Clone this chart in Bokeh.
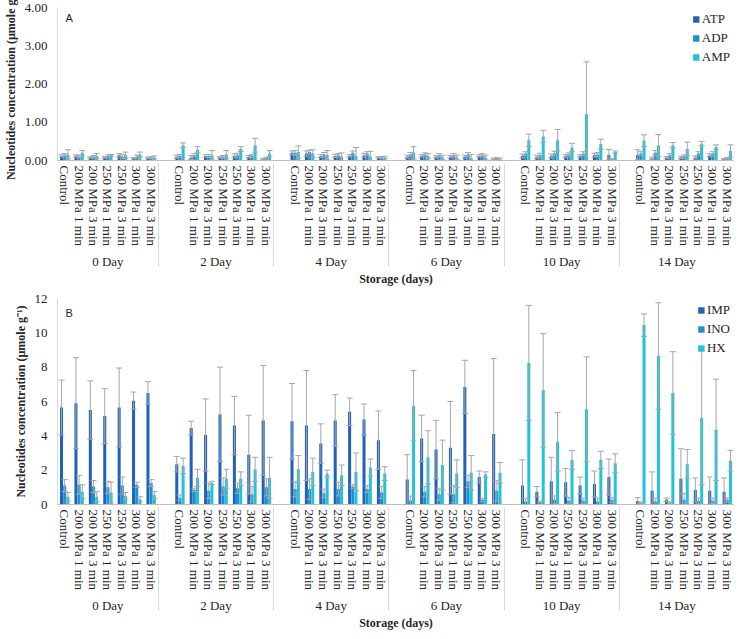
from bokeh.plotting import figure
from bokeh.models import (FactorRange, Whisker, TeeHead, ColumnDataSource, Legend,
                          LegendItem, Label, NumeralTickFormatter, FixedTicker)
from bokeh.transform import dodge
from bokeh.layouts import column
from bokeh.embed import file_html
from bokeh.resources import INLINE

# ---------------- data ----------------
days = ["0 Day", "2 Day", "4 Day", "6 Day", "10 Day", "14 Day"]
treatments = ["Control", "200 MPa 1 min", "200 MPa 3 min", "250 MPa 1 min",
              "250 MPa 3 min", "300 MPa 1 min", "300 MPa 3 min"]

# Panel A (µmole/g), day-major order (6 days x 7 treatments)
atp = [0.12, 0.12, 0.08, 0.08, 0.14, 0.06, 0.07,
       0.10, 0.08, 0.12, 0.08, 0.12, 0.10, 0.04,
       0.20, 0.18, 0.12, 0.12, 0.12, 0.14, 0.08,
       0.10, 0.12, 0.10, 0.10, 0.10, 0.12, 0.04,
       0.12, 0.10, 0.12, 0.12, 0.12, 0.14, 0.15,
       0.15, 0.06, 0.08, 0.08, 0.08, 0.14, 0.04]
atp_err = [0.03, 0.03, 0.02, 0.02, 0.04, 0.02, 0.02,
           0.04, 0.05, 0.03, 0.02, 0.05, 0.03, 0.02,
           0.05, 0.07, 0.04, 0.04, 0.03, 0.05, 0.02,
           0.04, 0.03, 0.03, 0.03, 0.04, 0.03, 0.02,
           0.05, 0.04, 0.05, 0.04, 0.03, 0.05, 0.14,
           0.13, 0.03, 0.03, 0.03, 0.04, 0.04, 0.01]
adp = [0.14, 0.10, 0.10, 0.12, 0.10, 0.10, 0.08,
       0.12, 0.14, 0.12, 0.10, 0.14, 0.12, 0.06,
       0.20, 0.22, 0.16, 0.14, 0.20, 0.18, 0.08,
       0.16, 0.16, 0.14, 0.14, 0.16, 0.14, 0.06,
       0.18, 0.14, 0.18, 0.16, 0.18, 0.16, 0.04,
       0.18, 0.20, 0.14, 0.12, 0.18, 0.18, 0.06]
adp_err = [0.04, 0.03, 0.03, 0.03, 0.05, 0.04, 0.02,
           0.04, 0.04, 0.04, 0.03, 0.05, 0.04, 0.02,
           0.06, 0.05, 0.05, 0.04, 0.05, 0.05, 0.02,
           0.05, 0.04, 0.04, 0.04, 0.05, 0.04, 0.02,
           0.05, 0.05, 0.06, 0.04, 0.05, 0.05, 0.01,
           0.05, 0.06, 0.04, 0.03, 0.05, 0.05, 0.02]
amp = [0.16, 0.20, 0.12, 0.14, 0.14, 0.16, 0.08,
       0.40, 0.28, 0.14, 0.16, 0.30, 0.40, 0.18,
       0.22, 0.18, 0.14, 0.10, 0.12, 0.10, 0.08,
       0.20, 0.12, 0.08, 0.08, 0.06, 0.08, 0.03,
       0.53, 0.63, 0.53, 0.34, 1.21, 0.43, 0.22,
       0.52, 0.39, 0.40, 0.30, 0.44, 0.35, 0.25]
amp_err = [0.12, 0.06, 0.06, 0.02, 0.08, 0.06, 0.04,
           0.06, 0.08, 0.12, 0.10, 0.06, 0.18, 0.08,
           0.16, 0.10, 0.12, 0.10, 0.22, 0.14, 0.03,
           0.16, 0.06, 0.06, 0.06, 0.10, 0.06, 0.03,
           0.16, 0.16, 0.28, 0.11, 1.37, 0.13, 0.03,
           0.15, 0.29, 0.07, 0.18, 0.06, 0.06, 0.16]

# Panel B (µmole/g)
imp = [5.65, 5.90, 5.50, 5.15, 5.65, 6.05, 6.50,
       2.35, 4.45, 4.05, 5.25, 4.60, 2.90, 4.90,
       4.85, 4.60, 3.55, 4.90, 5.40, 4.95, 3.75,
       1.45, 3.85, 3.20, 3.30, 6.85, 1.60, 4.10,
       1.10, 0.75, 1.35, 1.30, 1.10, 1.20, 1.60,
       0.20, 0.80, 0.27, 1.50, 0.85, 0.80, 0.75]
imp_err = [1.60, 2.65, 1.70, 1.60, 2.30, 0.50, 0.65,
           0.45, 0.40, 2.10, 2.75, 1.70, 2.30, 3.20,
           2.20, 3.20, 1.15, 1.50, 0.80, 0.90, 1.70,
           1.45, 1.35, 1.70, 2.70, 1.55, 0.35, 4.40,
           1.50, 0.30, 1.40, 0.80, 0.50, 0.75, 1.05,
           0.20, 1.10, 0.10, 1.75, 0.70, 0.80, 0.80]
ino = [1.10, 1.15, 1.05, 1.00, 1.10, 1.15, 1.25,
       0.40, 0.85, 0.80, 1.05, 0.95, 0.60, 1.00,
       0.90, 0.90, 0.65, 0.90, 1.05, 0.90, 0.70,
       0.24, 0.75, 0.60, 0.60, 1.35, 0.27, 0.80,
       0.18, 0.15, 0.27, 0.22, 0.22, 0.18, 0.27,
       0.10, 0.18, 0.10, 0.27, 0.22, 0.22, 0.27]
ino_err = [0.35, 0.55, 0.35, 0.35, 0.50, 0.15, 0.20,
           0.15, 0.10, 0.45, 0.50, 0.30, 0.45, 0.50,
           0.45, 0.60, 0.25, 0.40, 0.10, 0.20, 0.35,
           0.25, 0.30, 0.35, 0.50, 0.35, 0.10, 0.60,
           0.18, 0.05, 0.23, 0.18, 0.14, 0.18, 0.13,
           0.05, 0.18, 0.05, 0.37, 0.15, 0.15, 0.12]
hx = [0.45, 0.75, 0.45, 0.70, 0.50, 0.30, 0.55,
      2.25, 1.55, 1.25, 1.50, 1.50, 2.05, 1.55,
      2.05, 1.90, 1.80, 1.70, 1.90, 2.15, 1.80,
      5.75, 2.75, 2.30, 1.80, 1.85, 1.75, 1.85,
      8.25, 6.65, 3.65, 2.60, 5.55, 2.60, 2.40,
      10.45, 8.65, 6.50, 2.35, 5.05, 4.35, 2.55]
hx_err = [0.25, 0.40, 0.30, 0.60, 0.20, 0.15, 0.20,
          0.45, 0.50, 0.10, 0.55, 0.40, 0.70, 1.20,
          0.80, 0.80, 0.20, 0.60, 1.10, 0.50, 0.40,
          2.05, 1.55, 1.45, 0.80, 1.00, 0.15, 0.60,
          3.35, 3.30, 1.70, 0.55, 3.05, 0.50, 0.55,
          0.65, 3.10, 2.40, 0.85, 3.90, 2.95, 0.60]

a_ticks = [0, 1, 2, 3, 4]
b_ticks = [0, 2, 4, 6, 8, 10, 12]

# ---------------- styling ----------------
C1, C2, C3 = "#1F63B8", "#1B8FD2", "#21C3D6"
ERR = "#a6a6a6"
SERIF = "Liberation Serif"
SANS = "Liberation Sans"
TXT = "#262626"

# categorical factors (an empty slot opens every group after the first)
factors = []
for i, d in enumerate(days):
    if i > 0:
        factors.append((d, ""))
    for t in treatments:
        factors.append((d, t))
xs = [(d, t) for d in days for t in treatments]


def make_panel(series, names, ymax, ticks, fmt, letter, frame_h, top):
    p = figure(x_range=FactorRange(factors=factors, group_padding=0, range_padding=0),
               y_range=(0, ymax), width=734, frame_height=frame_h,
               output_backend="svg", toolbar_location=None,
               min_border_left=40, min_border_right=0, min_border_top=top,
               min_border_bottom=0)
    p.outline_line_color = None
    p.grid.visible = False
    p.background_fill_color = "white"

    data = dict(x=xs)
    for k, (vals, errs) in enumerate(series):
        data[f"v{k}"] = vals
        data[f"lo{k}"] = [v - e for v, e in zip(vals, errs)]
        data[f"hi{k}"] = [v + e for v, e in zip(vals, errs)]
    src = ColumnDataSource(data)

    offsets = [-0.22, 0.0, 0.22]
    colors = [C1, C2, C3]
    items = []
    for k in range(3):
        r = p.vbar(x=dodge("x", offsets[k], range=p.x_range), top=f"v{k}",
                   width=0.21, source=src, fill_color=colors[k], line_color=None)
        items.append(LegendItem(label=names[k], renderers=[r]))
    for k in range(3):
        w = Whisker(base=dodge("x", offsets[k], range=p.x_range),
                    upper=f"hi{k}", lower=f"lo{k}", source=src,
                    line_color=ERR, line_width=1, level="overlay",
                    upper_head=TeeHead(size=6, line_color=ERR, line_width=1),
                    lower_head=TeeHead(size=6, line_color=ERR, line_width=1))
        p.add_layout(w)

    leg = Legend(items=items, location="top_right", orientation="vertical")
    leg.label_text_font = SERIF
    leg.label_text_font_size = "13px"
    leg.label_text_color = TXT
    leg.glyph_width = 8
    leg.glyph_height = 8
    leg.label_standoff = 2
    leg.spacing = 3
    leg.padding = 0
    leg.margin = 4
    leg.background_fill_alpha = 0
    leg.border_line_color = None
    leg.label_height = 16
    p.add_layout(leg)

    # y axis
    p.yaxis.ticker = FixedTicker(ticks=ticks)
    p.yaxis.formatter = NumeralTickFormatter(format=fmt)
    p.yaxis.major_label_text_font = SERIF
    p.yaxis.major_label_text_font_size = "13px"
    p.yaxis.major_label_text_color = TXT
    p.yaxis.major_tick_line_color = None
    p.yaxis.minor_tick_line_color = None
    p.yaxis.axis_line_color = "#d9d9d9"
    p.yaxis.major_label_standoff = 4
    p.yaxis.axis_label = "Nucleotides concentration (µmole g⁻¹)"
    p.yaxis.axis_label_text_font = SERIF
    p.yaxis.axis_label_text_font_style = "bold"
    p.yaxis.axis_label_text_font_size = "12px"
    p.yaxis.axis_label_text_color = TXT
    p.yaxis.axis_label_standoff = 4

    # x axis
    xa = p.xaxis[0]
    xa.axis_line_color = "#bfbfbf"
    xa.major_tick_line_color = None
    xa.minor_tick_line_color = None
    xa.major_tick_out = 0
    xa.major_tick_in = 0
    xa.major_label_standoff = 5
    xa.separator_line_color = "#d9d9d9"
    xa.separator_line_width = 1
    xa.major_label_orientation = "vertical"
    xa.group_label_orientation = "horizontal"
    xa.major_label_text_font = SERIF
    xa.major_label_text_font_size = "13px"
    xa.major_label_text_color = TXT
    xa.group_text_font = SERIF
    xa.group_text_font_size = "13px"
    xa.group_text_color = TXT
    xa.group_text_font_style = "normal"
    xa.axis_label = "Storage (days)"
    xa.axis_label_text_font = SERIF
    xa.axis_label_text_font_style = "bold"
    xa.axis_label_text_font_size = "12px"
    xa.axis_label_text_color = TXT
    xa.axis_label_standoff = 0

    p.add_layout(Label(x=8, y=ymax * 0.93, x_units="screen", y_units="data",
                       text=letter, text_font=SANS, text_font_size="11px",
                       text_color=TXT, text_baseline="middle"))
    return p


pA = make_panel([(atp, atp_err), (adp, adp_err), (amp, amp_err)],
                ["ATP", "ADP", "AMP"], 4, a_ticks, "0.00", "A", 153, 7)
pB = make_panel([(imp, imp_err), (ino, ino_err), (hx, hx_err)],
                ["IMP", "INO", "HX"], 12, b_ticks, "0", "B", 206, 9)

layout = column(pA, pB, spacing=0)
open("out.html", "w").write(file_html(layout, INLINE))
